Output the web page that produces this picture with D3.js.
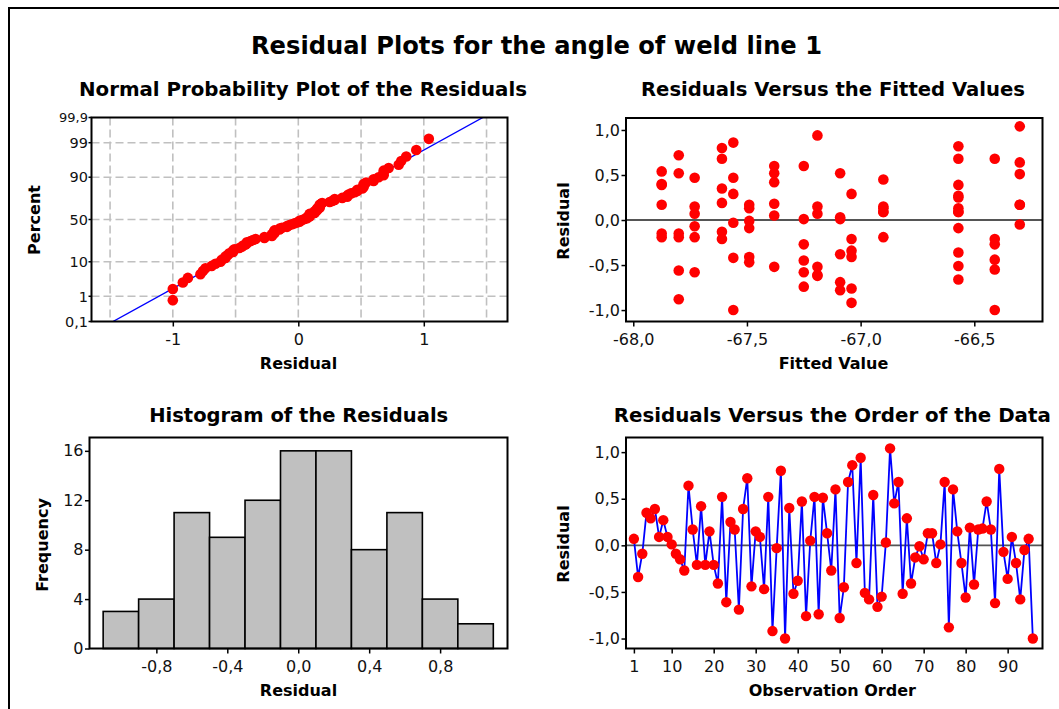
<!DOCTYPE html>
<html><head><meta charset="utf-8">
<script src="https://cdn.jsdelivr.net/npm/d3@7"></script>
<style>body{margin:0;background:#fff}</style>
</head><body>
<svg id="c" width="1059" height="709"></svg>
<script>
// ---------------- DATA ----------------
const residuals = [
 0.07,-0.34,-0.09,0.35,0.29,0.39,0.09,0.27,0.09,0.01,
 -0.09,-0.15,-0.27,0.64,0.17,-0.21,0.42,-0.21,0.15,-0.21,
 -0.41,0.52,-0.61,0.25,0.17,-0.69,0.39,0.72,-0.44,0.15,
 0.09,-0.47,0.52,-0.92,-0.03,0.80,-1.00,0.40,-0.52,-0.38,
 0.47,-0.76,0.05,0.52,-0.74,0.51,0.13,-0.27,0.60,-0.78,
 -0.45,0.68,0.86,-0.19,0.94,-0.51,-0.58,0.54,-0.66,-0.55,
 0.03,1.04,0.45,0.68,-0.52,0.29,-0.41,-0.13,-0.01,-0.15,
 0.13,0.13,-0.19,0.01,0.68,-0.88,0.60,0.15,-0.19,-0.56,
 0.19,-0.42,0.17,0.18,0.47,0.17,-0.62,0.82,-0.07,-0.36,
 0.09,-0.19,-0.58,-0.05,0.07,-1.00];
const fittedValues = [
 -67.19,-67.04,-66.57,-67.61,-67.56,-67.875,-66.90,-66.57,-66.90,-67.09,
 -67.49,-67.875,-67.25,-66.30,-67.49,-67.04,-67.38,-66.41,-67.73,-67.61,
 -67.49,-67.09,-67.19,-66.57,-66.30,-67.09,-66.57,-67.80,-66.41,-66.90,
 -66.57,-67.49,-67.80,-67.04,-67.56,-67.61,-67.56,-67.875,-67.38,-67.09,
 -67.73,-67.04,-67.38,-67.38,-67.25,-66.30,-67.49,-66.41,-67.38,-67.09,
 -67.25,-67.61,-67.56,-67.875,-67.19,-66.57,-67.73,-67.875,-66.57,-66.41,
 -67.09,-66.30,-66.90,-66.57,-67.19,-67.04,-67.04,-67.61,-67.49,-67.80,
 -66.90,-66.57,-67.73,-67.25,-66.41,-67.80,-67.25,-67.19,-66.90,-67.80,
 -67.61,-67.56,-66.30,-67.38,-67.56,-67.875,-67.19,-66.57,-67.73,-66.57,
 -66.57,-67.80,-67.25,-66.30,-67.73,-66.41];
const histBinCenters = [-1.0,-0.8,-0.6,-0.4,-0.2,0.0,0.2,0.4,0.6,0.8,1.0];
const histCounts = [3,4,11,9,12,16,16,8,11,4,2];
const histBinWidth = 0.2;
const npPercentTicks = [0.1,1,10,50,90,99,99.9];
const npPercentLabels = ["0,1","1","10","50","90","99","99,9"];
const npPercentGrid = [1,10,50,90,99];
const npResidTicks = [-1,0,1];
const npResidGrid = [-1.5,-1,-0.5,0,0.5,1,1.5];
const fittedTicks = [-68,-67.5,-67,-66.5];
const residTicks = [-1,-0.5,0,0.5,1];
const histXTicks = [-0.8,-0.4,0,0.4,0.8];
const histYTicks = [0,4,8,12,16];
const orderTicks = [1,10,20,30,40,50,60,70,80,90];

const mainTitle = "Residual Plots for the angle of weld line 1";
const titles = ["Normal Probability Plot of the Residuals","Residuals Versus the Fitted Values",
                "Histogram of the Residuals","Residuals Versus the Order of the Data"];

// ---------------- HELPERS ----------------
const FONT = "DejaVu Sans";
const fix = s => String(s).replace("\u2212", "-").replace(".", ",");
const f1 = v => fix(d3.format(".1f")(v));
const fInt = v => fix(d3.format("d")(v));

function qnorm(p){
 const a=[-3.969683028665376e+01,2.209460984245205e+02,-2.759285104469687e+02,1.383577518672690e+02,-3.066479806614716e+01,2.506628277459239e+00];
 const b=[-5.447609879822406e+01,1.615858368580409e+02,-1.556989798598866e+02,6.680131188771972e+01,-1.328068155288572e+01];
 const c=[-7.784894002430293e-03,-3.223964580411365e-01,-2.400758277161838e+00,-2.549671010243936e+00,4.374664141464968e+00,2.938163982698783e+00];
 const d=[7.784695709041462e-03,3.224671290700398e-01,2.445134137142996e+00,3.754408661907416e+00];
 const pl=0.02425, ph=1-pl; let q,r;
 if(p<pl){q=Math.sqrt(-2*Math.log(p));return (((((c[0]*q+c[1])*q+c[2])*q+c[3])*q+c[4])*q+c[5])/((((d[0]*q+d[1])*q+d[2])*q+d[3])*q+1);}
 if(p>ph){q=Math.sqrt(-2*Math.log(1-p));return -(((((c[0]*q+c[1])*q+c[2])*q+c[3])*q+c[4])*q+c[5])/((((d[0]*q+d[1])*q+d[2])*q+d[3])*q+1);}
 q=p-0.5;r=q*q;return (((((a[0]*r+a[1])*r+a[2])*r+a[3])*r+a[4])*r+a[5])*q/(((((b[0]*r+b[1])*r+b[2])*r+b[3])*r+b[4])*r+1);
}

const svg = d3.select("#c");
svg.append("rect").attr("width",1059).attr("height",709).attr("fill","#fff");
svg.append("rect").attr("x",9).attr("y",8).attr("width",1100).attr("height",800)
   .attr("fill","none").attr("stroke","#000").attr("stroke-width",2);

function styleAxis(g, fs){
  g.select(".domain").remove();
  g.selectAll(".tick line").attr("stroke","#000").attr("stroke-width",1.5);
  g.selectAll(".tick text").attr("font-family",FONT).attr("font-size",fs).attr("fill","#111");
}
function xAxis(x, vals, fmt, box){
  const g = svg.append("g").attr("transform",`translate(0,${box.b})`)
    .call(d3.axisBottom(x).tickValues(vals).tickFormat(fmt).tickSize(5).tickPadding(7.5));
  styleAxis(g,16);
}
function yAxis(y, vals, fmt, box, size, pad, fs){
  const g = svg.append("g").attr("transform",`translate(${box.l},0)`)
    .call(d3.axisLeft(y).tickValues(vals).tickFormat(fmt).tickSize(size).tickPadding(pad));
  styleAxis(g,fs);
  return g;
}
function frame(box){
  svg.append("rect").attr("x",box.l).attr("y",box.t).attr("width",box.r-box.l).attr("height",box.b-box.t)
    .attr("fill","none").attr("stroke","#000").attr("stroke-width",2);
}
function clip(id, box){
  svg.append("clipPath").attr("id",id).append("rect")
    .attr("x",box.l).attr("y",box.t).attr("width",box.r-box.l).attr("height",box.b-box.t);
}
function title(txt, cx, y, len, fs){
  svg.append("text").attr("x",cx).attr("y",y).attr("text-anchor","middle")
    .attr("font-family",FONT).attr("font-weight","bold").attr("font-size",fs).attr("fill","#000")
    .attr("textLength",len).attr("lengthAdjust","spacingAndGlyphs").text(txt);
}
function xLabel(txt, cx, y){
  svg.append("text").attr("x",cx).attr("y",y).attr("text-anchor","middle")
    .attr("font-family",FONT).attr("font-weight","bold").attr("font-size",16).attr("fill","#000").text(txt);
}
function yLabel(txt, x, cy){
  svg.append("text").attr("transform",`translate(${x},${cy}) rotate(-90)`).attr("text-anchor","middle")
    .attr("font-family",FONT).attr("font-weight","bold").attr("font-size",16).attr("fill","#000").text(txt);
}

// ---------------- TITLE ----------------
title(mainTitle, 536.5, 54, 571, 25);

// ---------------- NORMAL PROBABILITY PLOT ----------------
{
  const box = {l:91.5, r:507.5, t:117.5, b:321.5};
  const x = d3.scaleLinear().domain([-1.648,1.667]).range([box.l,box.r]);
  const zMax = qnorm(0.999);
  const y = d3.scaleLinear().domain([-zMax,zMax]).range([box.b,box.t]);
  const yp = p => y(qnorm(p/100));
  clip("npclip", box);
  const grid = svg.append("g").attr("stroke","#c0c0c0").attr("stroke-width",1.6).attr("stroke-dasharray","8,4");
  grid.selectAll("line.v").data(npResidGrid).join("line").attr("class","v")
    .attr("x1",d=>x(d)).attr("x2",d=>x(d)).attr("y1",box.t).attr("y2",box.b);
  grid.selectAll("line.h").data(npPercentGrid).join("line").attr("class","h")
    .attr("x1",box.l).attr("x2",box.r).attr("y1",d=>yp(d)).attr("y2",d=>yp(d));
  const n = residuals.length;
  const mean = d3.mean(residuals), sd = d3.deviation(residuals);
  const sorted = residuals.slice().sort((a,b)=>a-b);
  const pts = sorted.map((r,i)=>({r, z:qnorm((i+1-0.3)/(n+0.4))}));
  const lineZ = [-zMax, zMax];
  svg.append("path").attr("clip-path","url(#npclip)")
    .attr("d", d3.line().x(z=>x(mean+sd*z)).y(z=>y(z))(lineZ))
    .attr("stroke","#0000ff").attr("stroke-width",1.4).attr("fill","none");
  svg.append("g").attr("clip-path","url(#npclip)").selectAll("circle").data(pts).join("circle")
    .attr("cx",d=>x(d.r)).attr("cy",d=>y(d.z)).attr("r",5.3).attr("fill","#ff0000");
  xAxis(x, npResidTicks, fInt, box);
  const ya = svg.append("g").attr("transform",`translate(${box.l},0)`);
  ya.selectAll("line").data(npPercentTicks).join("line")
    .attr("x1",-3).attr("x2",0).attr("y1",d=>yp(d)).attr("y2",d=>yp(d)).attr("stroke","#000").attr("stroke-width",1.5);
  ya.selectAll("text").data(npPercentTicks).join("text")
    .attr("x",-3.5).attr("y",d=>yp(d)).attr("dy","0.36em").attr("text-anchor","end")
    .attr("font-family",FONT).attr("font-size",(d,i)=> i===npPercentTicks.length-1 ? 13 : 14.5)
    .attr("fill","#111").text((d,i)=>npPercentLabels[i]);
  frame(box);
  title(titles[0], 303, 96, 448, 20);
  xLabel("Residual", 298.5, 369);
  yLabel("Percent", 39.5, 220);
}

// ---------------- RESIDUALS VS FITTED ----------------
{
  const box = {l:626, r:1042.5, t:118, b:321.5};
  const x = d3.scaleLinear().domain([-68.032,-66.2]).range([box.l,box.r]);
  const y = d3.scaleLinear().domain([-1.127,1.133]).range([box.b,box.t]);
  svg.append("line").attr("x1",box.l).attr("x2",box.r).attr("y1",y(0)).attr("y2",y(0))
    .attr("stroke","#555").attr("stroke-width",1.8);
  svg.append("g").selectAll("circle").data(residuals).join("circle")
    .attr("cx",(d,i)=>x(fittedValues[i])).attr("cy",d=>y(d)).attr("r",5.3).attr("fill","#ff0000");
  xAxis(x, fittedTicks, f1, box);
  yAxis(y, residTicks, f1, box, 4.5, 1.5, 16);
  frame(box);
  title(titles[1], 833, 96, 384, 20);
  xLabel("Fitted Value", 833.5, 369);
  yLabel("Residual", 569, 221);
}

// ---------------- HISTOGRAM ----------------
{
  const box = {l:89.5, r:507.5, t:437.5, b:648.5};
  const x = d3.scaleLinear().domain([-1.177,1.18]).range([box.l,box.r]);
  const y = d3.scaleLinear().domain([0,17.08]).range([box.b,box.t]);
  svg.append("g").selectAll("rect").data(histCounts).join("rect")
    .attr("x",(d,i)=>x(histBinCenters[i]-histBinWidth/2))
    .attr("width",(d,i)=>x(histBinCenters[i]+histBinWidth/2)-x(histBinCenters[i]-histBinWidth/2))
    .attr("y",d=>y(d)).attr("height",d=>y(0)-y(d))
    .attr("fill","#c0c0c0").attr("stroke","#000").attr("stroke-width",1.6);
  xAxis(x, histXTicks, f1, box);
  yAxis(y, histYTicks, fInt, box, 4.5, 1.5, 16);
  frame(box);
  title(titles[2], 298.7, 422, 299, 20);
  xLabel("Residual", 298.5, 696);
  yLabel("Frequency", 47.5, 545);
}

// ---------------- RESIDUALS VS ORDER ----------------
{
  const box = {l:626, r:1042.5, t:437.5, b:648.5};
  const x = d3.scaleLinear().domain([-0.88,98.3]).range([box.l,box.r]);
  const y = d3.scaleLinear().domain([-1.107,1.157]).range([box.b,box.t]);
  svg.append("line").attr("x1",box.l).attr("x2",box.r).attr("y1",y(0)).attr("y2",y(0))
    .attr("stroke","#555").attr("stroke-width",1.8);
  svg.append("path").attr("d", d3.line().x((d,i)=>x(i+1)).y(d=>y(d))(residuals))
    .attr("fill","none").attr("stroke","#0000ff").attr("stroke-width",1.8);
  svg.append("g").selectAll("circle").data(residuals).join("circle")
    .attr("cx",(d,i)=>x(i+1)).attr("cy",d=>y(d)).attr("r",5.2).attr("fill","#ff0000");
  xAxis(x, orderTicks, fInt, box);
  yAxis(y, residTicks, f1, box, 4.5, 1.5, 16);
  frame(box);
  title(titles[3], 832.3, 422, 437, 20);
  xLabel("Observation Order", 832.3, 696);
  yLabel("Residual", 569, 544);
}
</script>
</body></html>
